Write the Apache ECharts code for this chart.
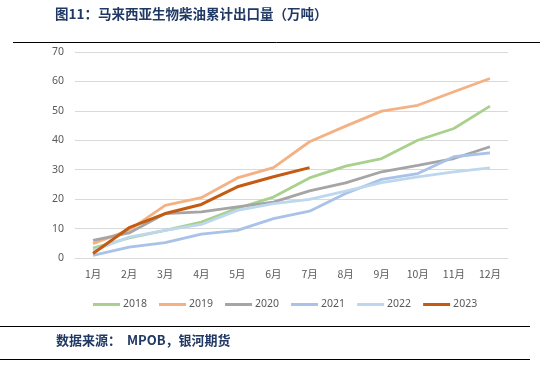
<!DOCTYPE html>
<html><head><meta charset="utf-8">
<script src="https://cdn.jsdelivr.net/npm/echarts@6/dist/echarts.min.js"></script>
<style>html,body{margin:0;padding:0;background:#fff}#c{width:540px;height:371px}</style>
</head><body><div id="c"></div>
<script>
var months = ['1月','2月','3月','4月','5月','6月','7月','8月','9月','10月','11月','12月'];
var years = ['2018','2019','2020','2021','2022','2023'];
var s2018 = [3.4, 6.8, 9.4, 12.2, 16.9, 20.7, 27.2, 31.2, 33.8, 40.0, 44.0, 51.6];
var s2019 = [4.9, 9.5, 17.9, 20.5, 27.2, 30.7, 39.5, 44.8, 49.9, 51.9, 56.5, 61.0];
var s2020 = [6.0, 8.5, 15.1, 15.7, 17.4, 19.0, 22.8, 25.5, 29.3, 31.5, 33.8, 37.8];
var s2021 = [0.9, 3.7, 5.2, 8.1, 9.4, 13.4, 15.9, 21.9, 26.7, 28.7, 34.4, 35.7];
var s2022 = [2.5, 7.1, 9.4, 11.4, 16.2, 18.5, 19.9, 22.7, 25.6, 27.6, 29.3, 30.6];
var s2023 = [1.5, 10.3, 15.1, 18.2, 24.2, 27.6, 30.7];
var yTicks = [0, 10, 20, 30, 40, 50, 60, 70];
var colors = ['#a9d18e', '#f4b183', '#a5a5a5', '#a9c2e8', '#bdd7ee', '#c55a11'];
var seriesData = [s2018, s2019, s2020, s2021, s2022, s2023];

var chart = echarts.init(document.getElementById('c'), null, {renderer: 'canvas'});
var navy = '#1f3864';
chart.setOption({
  animation: false,
  backgroundColor: '#fff',
  color: colors,
  grid: {left: 75, right: 32, top: 52, bottom: 113},
  xAxis: {
    type: 'category', data: months, boundaryGap: true,
    axisLine: {show: true, lineStyle: {color: '#d9d9d9', width: 1}},
    axisTick: {show: false},
    axisLabel: {color: '#595959', fontSize: 10.5, fontFamily: 'Noto Sans CJK SC', margin: 11}
  },
  yAxis: {
    type: 'value', min: yTicks[0], max: yTicks[yTicks.length - 1], interval: 10,
    axisLine: {show: false}, axisTick: {show: false},
    splitLine: {lineStyle: {color: '#d9d9d9', width: 1}},
    axisLabel: {color: '#595959', fontSize: 10.5, fontFamily: 'Noto Sans', margin: 11}
  },
  legend: {
    data: years, left: 88, top: 294, icon: 'rect', itemWidth: 27, itemHeight: 3, itemGap: 12,
    textStyle: {color: '#595959', fontSize: 10.5, fontFamily: 'Noto Sans', padding: [0, 0, 0, -2]}
  },
  series: years.map(function (y, i) {
    return {
      name: y, type: 'line', data: seriesData[i], symbol: 'none', smooth: false,
      lineStyle: {width: i === 5 ? 3 : 2.8, color: colors[i]},
      z: i === 5 ? 10 : 2
    };
  }),
  graphic: [
    {type: 'text', left: 55, top: 7, style: {text: '图11：马来西亚生物柴油累计出口量（万吨）', fill: navy, font: 'bold 13.5px "Noto Sans CJK SC"'}},
    {type: 'line', shape: {x1: 13, y1: 42.5, x2: 540, y2: 42.5}, style: {stroke: '#000', lineWidth: 1}},
    {type: 'line', shape: {x1: 0, y1: 326.5, x2: 530, y2: 326.5}, style: {stroke: '#000', lineWidth: 1}},
    {type: 'text', left: 56, top: 334, style: {text: '数据来源：  MPOB，银河期货', fill: navy, font: 'bold 13px "Noto Sans CJK SC"'}},
    {type: 'line', shape: {x1: 0, y1: 359.5, x2: 530, y2: 359.5}, style: {stroke: '#000', lineWidth: 1}}
  ]
});
</script></body></html>
